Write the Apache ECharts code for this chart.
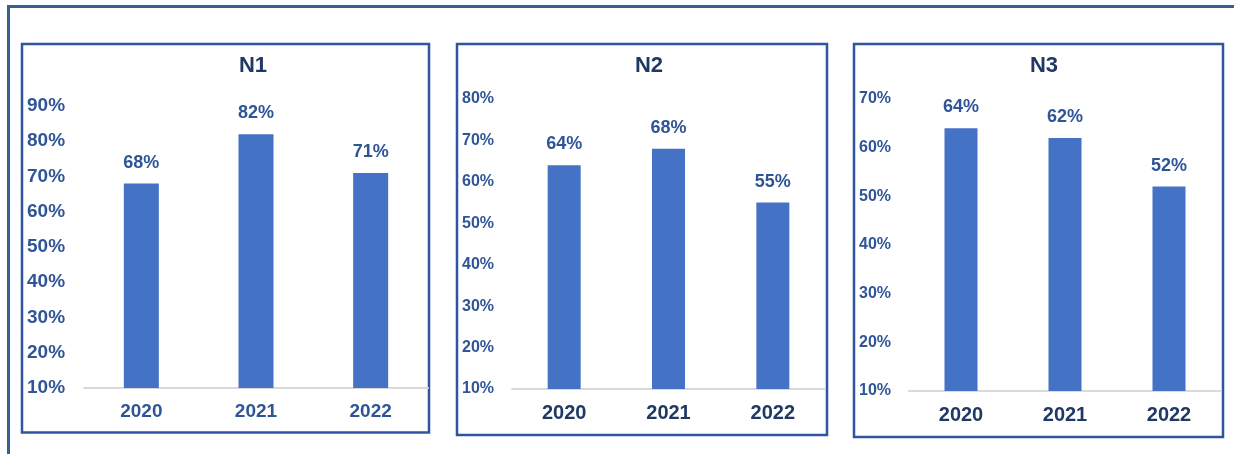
<!DOCTYPE html>
<html>
<head>
<meta charset="utf-8">
<script src="https://cdn.jsdelivr.net/npm/echarts@6/dist/echarts.min.js"></script>
<style>
  html, body { margin: 0; padding: 0; background: #ffffff; }
  #chart { width: 1234px; height: 454px; }
</style>
</head>
<body>
<div id="chart"></div>
<script>
// Categories and values for the three panels
const years = ['2020', '2021', '2022'];
const titles = ['N1', 'N2', 'N3'];
const valuesN1 = [68, 82, 71];
const valuesN2 = [64, 68, 55];
const valuesN3 = [64, 62, 52];
// Value-axis ranges (percent) for each panel
const axisMin = [10, 10, 10];
const axisMax = [90, 80, 70];
const axisStep = 10;

const seriesValues = [valuesN1, valuesN2, valuesN3];

const FONT = '"Liberation Sans", Arial, sans-serif';
const BLUE = '#2f5597';
const NAVY = '#1f3864';
const BAR = '#4472c4';
const FRAME = '#3b5f8f';
const PANEL = '#2f55a0';

// Layout of each panel: plot area, frame box, label styling
const panels = [
  { grid: { left: 84, top: 106, width: 344, height: 282 },
    box: [22, 44, 407, 388.5], titleX: 253, yFont: 19, yMargin: 57,
    xFont: 19, xColor: BLUE, barWidth: 35 },
  { grid: { left: 512, top: 99, width: 313, height: 290 },
    box: [457, 44, 370, 391], titleX: 649, yFont: 16, yMargin: 50,
    xFont: 20, xColor: NAVY, barWidth: 33 },
  { grid: { left: 909, top: 99, width: 312, height: 292 },
    box: [854, 44, 369, 393], titleX: 1044, yFont: 16, yMargin: 50,
    xFont: 20, xColor: NAVY, barWidth: 33 }
];

const chart = echarts.init(document.getElementById('chart'), null, { renderer: 'canvas' });

const graphic = [
  // outer frame: top and left edges
  { type: 'polyline', shape: { points: [[8.5, 454], [8.5, 6.5], [1234, 6.5]] },
    style: { stroke: FRAME, lineWidth: 3, fill: null }, silent: true }
];

panels.forEach((p, i) => {
  graphic.push({
    type: 'rect',
    shape: { x: p.box[0], y: p.box[1], width: p.box[2], height: p.box[3] },
    style: { stroke: PANEL, lineWidth: 2.5, fill: null },
    silent: true
  });
  graphic.push({
    type: 'text',
    x: p.titleX, y: 66,
    style: { text: titles[i], fill: NAVY, font: 'bold 22px ' + FONT,
             align: 'center', verticalAlign: 'middle' },
    silent: true
  });
});

const option = {
  animation: false,
  backgroundColor: '#ffffff',
  grid: panels.map(p => Object.assign({ containLabel: false }, p.grid)),
  xAxis: panels.map((p, i) => ({
    type: 'category',
    gridIndex: i,
    data: years,
    axisLine: { show: true, lineStyle: { color: '#d9d9d9', width: 2 } },
    axisTick: { show: false },
    axisLabel: { color: p.xColor, fontSize: p.xFont, fontWeight: 'bold',
                 fontFamily: FONT, margin: 14 },
    splitLine: { show: false }
  })),
  yAxis: panels.map((p, i) => ({
    type: 'value',
    gridIndex: i,
    min: axisMin[i],
    max: axisMax[i],
    interval: axisStep,
    axisLine: { show: false },
    axisTick: { show: false },
    splitLine: { show: false },
    axisLabel: { formatter: '{value}%', color: BLUE, fontSize: p.yFont,
                 fontWeight: 'bold', fontFamily: FONT, align: 'left',
                 margin: p.yMargin }
  })),
  series: panels.map((p, i) => ({
    type: 'bar',
    xAxisIndex: i,
    yAxisIndex: i,
    data: seriesValues[i],
    barWidth: p.barWidth,
    itemStyle: { color: BAR },
    label: { show: true, position: 'top', distance: 12, formatter: '{c}%',
             color: BLUE, fontSize: 18, fontWeight: 'bold', fontFamily: FONT }
  })),
  graphic: graphic
};

chart.setOption(option);
</script>
</body>
</html>
